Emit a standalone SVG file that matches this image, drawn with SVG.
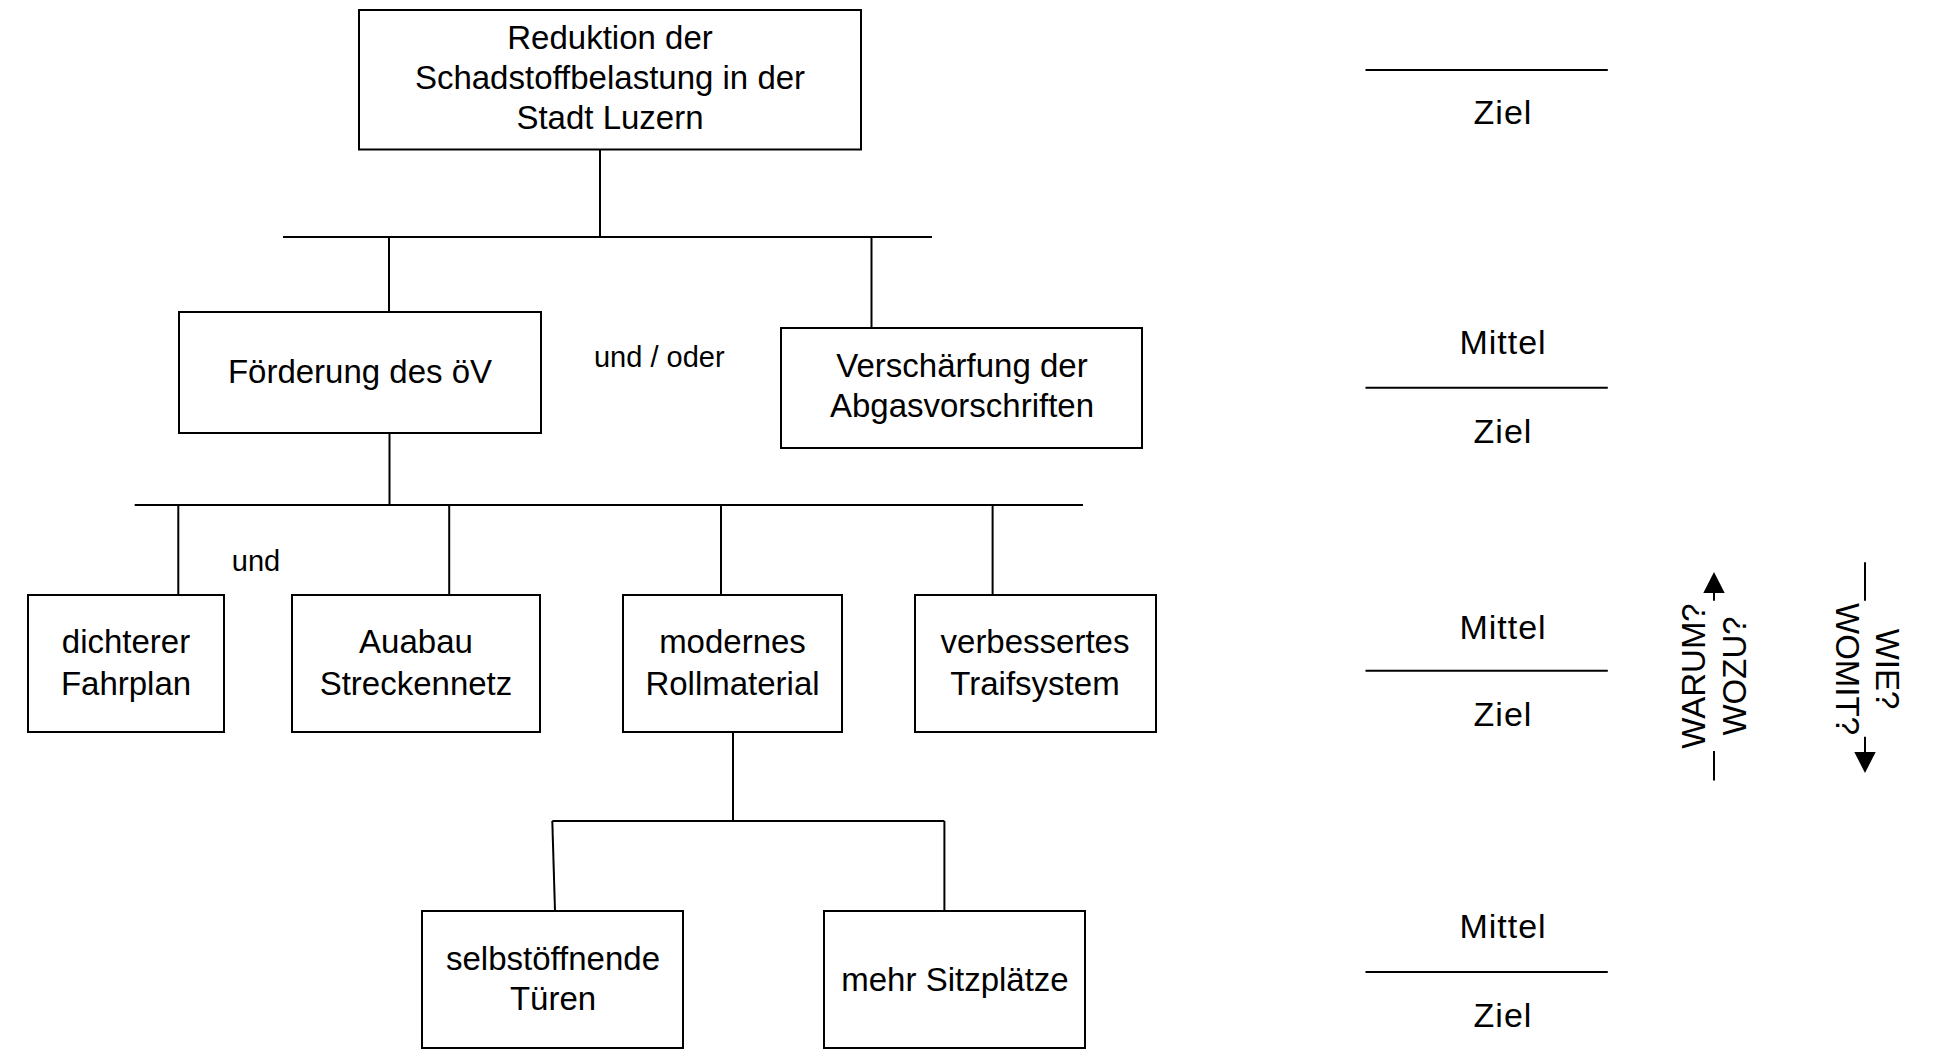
<svg xmlns="http://www.w3.org/2000/svg" width="1954" height="1058" viewBox="0 0 1954 1058">
<style>
.box{fill:#fff;stroke:#000;stroke-width:2}
.t{font-family:"Liberation Sans",Arial,sans-serif;font-size:33px;fill:#000;text-anchor:middle}
.s{font-family:"Liberation Sans",Arial,sans-serif;font-size:29px;fill:#000;text-anchor:middle}
.lv{font-family:"Liberation Sans",Arial,sans-serif;font-size:34px;letter-spacing:1px;fill:#000;text-anchor:middle}
.q{font-family:"Liberation Sans",Arial,sans-serif;font-size:33px;fill:#000;text-anchor:middle}
.c{stroke:#000;stroke-width:2;fill:none}
.lvl{stroke:#000;stroke-width:2}
</style>
<defs>
<marker id="ah" markerUnits="userSpaceOnUse" markerWidth="22" markerHeight="24" viewBox="0 -12 22 24" refX="0" refY="0" orient="auto">
<path d="M0,-10.7 L21,0 L0,10.7 Z" fill="#000"/>
</marker>
</defs>
<rect width="1954" height="1058" fill="#fff"/>
<g id="connectors">
<path class="c" d="M600,149.5 V237"/>
<path class="c" d="M283,237 H932"/>
<path class="c" d="M389,237 V312"/>
<path class="c" d="M871.5,237 V328"/>
<path class="c" d="M389.5,433 V505"/>
<path class="c" d="M134.7,505 H1083"/>
<path class="c" d="M178.3,505 V595"/>
<path class="c" d="M449.2,505 V595"/>
<path class="c" d="M721,505 V595"/>
<path class="c" d="M992.6,505 V595"/>
<path class="c" d="M733,732 V821"/>
<path class="c" d="M552.3,821 H944.4"/>
<path class="c" d="M552.3,821 L555,911"/>
<path class="c" d="M944.4,821 V911"/>
</g>
<g id="n1">
<rect class="box" x="359" y="10" width="502" height="139.5"/>
<text class="t" x="610" y="49.3">Reduktion der</text>
<text class="t" x="610" y="89.3">Schadstoffbelastung in der</text>
<text class="t" x="610" y="129.3">Stadt Luzern</text>
</g>
<g id="n2">
<rect class="box" x="179" y="312" width="362" height="121"/>
<text class="t" x="360" y="383">Förderung des öV</text>
</g>
<g id="n3">
<rect class="box" x="781" y="328" width="361" height="120"/>
<text class="t" x="962" y="377.3">Verschärfung der</text>
<text class="t" x="962" y="416.7">Abgasvorschriften</text>
</g>
<g id="n4">
<rect class="box" x="28" y="595" width="196" height="137"/>
<text class="t" x="126" y="653">dichterer</text>
<text class="t" x="126" y="694.5">Fahrplan</text>
</g>
<g id="n5">
<rect class="box" x="292" y="595" width="248" height="137"/>
<text class="t" x="416" y="653">Auabau</text>
<text class="t" x="416" y="694.5">Streckennetz</text>
</g>
<g id="n6">
<rect class="box" x="623" y="595" width="219" height="137"/>
<text class="t" x="732.5" y="653">modernes</text>
<text class="t" x="732.5" y="694.5">Rollmaterial</text>
</g>
<g id="n7">
<rect class="box" x="915" y="595" width="241" height="137"/>
<text class="t" x="1035" y="653">verbessertes</text>
<text class="t" x="1035" y="694.5">Traifsystem</text>
</g>
<g id="n8">
<rect class="box" x="422" y="911" width="261" height="137"/>
<text class="t" x="553" y="970">selbstöffnende</text>
<text class="t" x="553" y="1009.7">Türen</text>
</g>
<g id="n9">
<rect class="box" x="824" y="911" width="261" height="137"/>
<text class="t" x="955" y="990.5">mehr Sitzplätze</text>
</g>
<g id="labels">
<text class="s" x="659.3" y="366.7">und / oder</text>
<text class="s" x="256" y="571">und</text>
</g>
<g id="levels">
<line class="lvl" x1="1365.5" y1="70" x2="1607.8" y2="70"/>
<line class="lvl" x1="1365.5" y1="387.7" x2="1607.8" y2="387.7"/>
<line class="lvl" x1="1365.5" y1="670.8" x2="1607.8" y2="670.8"/>
<line class="lvl" x1="1365.5" y1="971.9" x2="1607.8" y2="971.9"/>
<text class="lv" x="1503" y="124.3">Ziel</text>
<text class="lv" x="1503" y="354">Mittel</text>
<text class="lv" x="1503" y="443.3">Ziel</text>
<text class="lv" x="1503" y="638.8">Mittel</text>
<text class="lv" x="1503" y="726">Ziel</text>
<text class="lv" x="1503" y="938.4">Mittel</text>
<text class="lv" x="1503" y="1026.7">Ziel</text>
</g>
<g id="arrow-up">
<path class="c" d="M1714,780.4 V751"/>
<path class="c" d="M1714,600.7 V593" marker-end="url(#ah)"/>
<text class="q" transform="translate(1705,676) rotate(-90)"><tspan x="0" y="0">WARUM?</tspan><tspan x="0" y="41">WOZU?</tspan></text>
</g>
<g id="arrow-down">
<path class="c" d="M1865,562.3 V600.7"/>
<path class="c" d="M1865,736.7 V752" marker-end="url(#ah)"/>
<text class="q" transform="translate(1875.5,669) rotate(90)"><tspan x="0" y="0">WIE?</tspan><tspan x="0" y="39.5">WOMIT?</tspan></text>
</g>
</svg>
